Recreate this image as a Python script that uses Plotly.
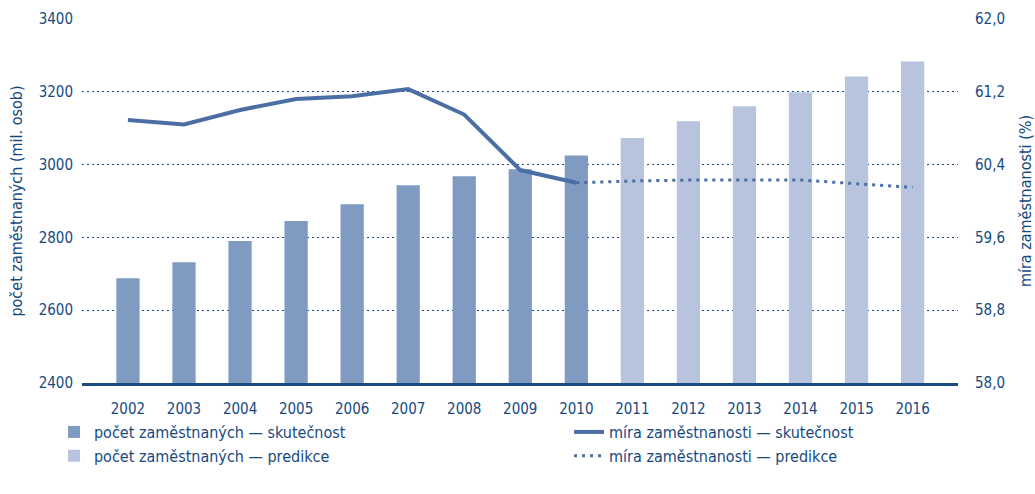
import plotly.graph_objects as go

years = list(range(2002, 2017))
actual_years = list(range(2002, 2011))
pred_years = list(range(2011, 2017))

employed_actual = [2688, 2732, 2790, 2845, 2891, 2943, 2968, 2987, 3025]
employed_pred = [3073, 3119, 3160, 3199, 3242, 3283]

rate_actual = [60.89, 60.84, 61.00, 61.12, 61.15, 61.23, 60.95, 60.34, 60.20]
rate_pred_years = [2010, 2011, 2012, 2013, 2014, 2015, 2016]
rate_pred = [60.20, 60.22, 60.23, 60.23, 60.23, 60.19, 60.15]

left_ticks = [2400, 2600, 2800, 3000, 3200, 3400]
left_ticktext = ["2400", "2600", "2800", "3000", "3200", "3400"]
right_ticks = [58.0, 58.8, 59.6, 60.4, 61.2, 62.0]
right_ticktext = ["58,0", "58,8", "59,6", "60,4", "61,2", "62,0"]

TXT = "#17497f"
DARK_BAR = "#7f9bc1"
LIGHT_BAR = "#b8c4dd"
LINE = "#4b6fa4"
AXIS = "#1b4c7f"
FONT = "Liberation Sans Narrow, DejaVu Sans Condensed, Roboto, sans-serif"

fig = go.Figure()
fig.add_trace(go.Bar(x=actual_years, y=employed_actual, width=0.415,
                     marker=dict(color=DARK_BAR, line=dict(width=0)),
                     name="počet zaměstnaných — skutečnost", legend="legend"))
fig.add_trace(go.Bar(x=pred_years, y=employed_pred, width=0.415,
                     marker=dict(color=LIGHT_BAR, line=dict(width=0)),
                     name="počet zaměstnaných — predikce", legend="legend"))
fig.add_trace(go.Scatter(x=actual_years, y=rate_actual, yaxis="y2", mode="lines",
                         line=dict(color=LINE, width=4),
                         name="míra zaměstnanosti — skutečnost", legend="legend2"))
fig.add_trace(go.Scatter(x=rate_pred_years, y=rate_pred, yaxis="y2", mode="lines",
                         line=dict(color=LINE, width=3, dash="3px,5px"),
                         name="míra zaměstnanosti — predikce", legend="legend2"))

legend_common = dict(orientation="v", yanchor="top", xanchor="left",
                     font=dict(family=FONT, size=16, color=TXT),
                     traceorder="normal", bgcolor="rgba(0,0,0,0)")

fig.update_layout(
    width=1035, height=494,
    margin=dict(l=82, r=77, t=19, b=111, autoexpand=False),
    plot_bgcolor="white", paper_bgcolor="white",
    font=dict(family=FONT, size=16, color=TXT),
    barmode="overlay",
    showlegend=True,
    legend=dict(x=-0.032, y=-0.088, **legend_common),
    legend2=dict(x=0.556, y=-0.088, **legend_common),
    xaxis=dict(range=[2001.18, 2016.81], tickvals=years,
               ticktext=[str(y) for y in years],
               showgrid=False, zeroline=False, automargin=False,
               showline=True, linecolor=AXIS, linewidth=3,
               ticks="", ticklabelstandoff=10,
               tickfont=dict(family=FONT, size=15, color=TXT)),
    yaxis=dict(range=[2400, 3400], tickvals=left_ticks, ticktext=left_ticktext,
               showgrid=True, gridcolor=AXIS, gridwidth=1, griddash="2px,3px",
               zeroline=False, showline=False, ticks="", ticklabelstandoff=8,
               automargin=False,
               title=dict(text="počet zaměstnaných (mil. osob)", standoff=12,
                          font=dict(family=FONT, size=16, color=TXT)),
               tickfont=dict(family=FONT, size=15, color=TXT)),
    yaxis2=dict(range=[58.0, 62.0], tickvals=right_ticks, ticktext=right_ticktext,
                overlaying="y", side="right", showgrid=False, zeroline=False,
                showline=False, ticks="", ticklabelstandoff=16, automargin=False,
                title=dict(text="míra zaměstnanosti (%)", standoff=15,
                           font=dict(family=FONT, size=16, color=TXT)),
                tickfont=dict(family=FONT, size=15, color=TXT)),
)

fig.write_html("out.html", config={"displayModeBar": False},
               post_script="document.body.style.margin='0px';")
